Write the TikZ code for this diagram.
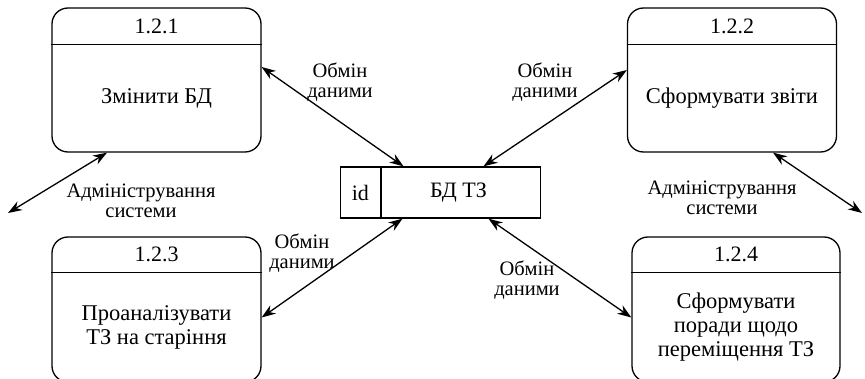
\documentclass[tikz,border=0pt]{standalone}
\usepackage{fontspec}
\setmainfont{Liberation Serif}
\usetikzlibrary{positioning, arrows.meta, calc}
\tikzset{
link/.style={<->}, % data flows go both ways
>={Stealth[length=14pt,width=10pt]}, % big filled heads
proc/.style={draw, rounded corners=16pt, minimum width=209pt, minimum height=144pt, inner sep=0pt}, % a process box
store/.style={draw, minimum width=200pt, minimum height=51pt, inner sep=0pt}, % the data store
num/.style={font=\fontsize{22}{24}\selectfont}, % process number
body/.style={align=center, font=\fontsize{22.5}{24}\selectfont}, % process name
flow/.style={align=center, font=\fontsize{20.5}{20}\selectfont}, % flow label
}

\begin{document}
\begin{tikzpicture}[x=1pt, y=1pt, line width=1.3pt]
        \useasboundingbox (0,0) rectangle (865,378);

        % processes
        \node[proc] (p1) at (156.5,298) {};
        \node[proc] (p2) at (732,298) {};
        \node[proc, minimum height=145pt] (p3) at (156.5,68.5) {};
        \node[proc, minimum width=208pt, minimum height=145pt] (p4) at (736,68.5) {};

        \draw ([yshift=-37pt]p1.north west) -- ([yshift=-37pt]p1.north east);
        \draw ([yshift=-37pt]p2.north west) -- ([yshift=-37pt]p2.north east);
        \draw ([yshift=-36pt]p3.north west) -- ([yshift=-36pt]p3.north east);
        \draw ([yshift=-36pt]p4.north west) -- ([yshift=-36pt]p4.north east);

        \node[num] (n1) at ([yshift=-19pt]p1.north) {1.2.1};
        \node[num] (n2) at ([yshift=-19pt]p2.north) {1.2.2};
        \node[num] (n3) at ([yshift=-18pt]p3.north) {1.2.3};
        \node[num] (n4) at ([yshift=-18pt]p4.north) {1.2.4};

        \node[body] (t1) at ($([yshift=-37pt]p1.north)!0.5!(p1.south)$) {Змінити БД};
        \node[body] (t2) at ($([yshift=-37pt]p2.north)!0.5!(p2.south)$) {Сформувати звіти};
        \node[body] (t3) at ($([yshift=-36pt]p3.north)!0.5!(p3.south)$) {Проаналізувати\\ТЗ на старіння};
        \node[body] (t4) at ($([yshift=-36pt]p4.north)!0.5!(p4.south)$) {Сформувати\\поради щодо\\переміщення ТЗ};

        % data store
        \node[store] (db) at (440.5,185.5) {};
        \draw ([xshift=41pt]db.north west) -- ([xshift=41pt]db.south west);
        \node[num] (dbid) at ([xshift=20.5pt]db.west) {id};
        \node[num] (dbname) at ([xshift=18pt]db.center) {БД ТЗ};

        % outside ends
        \coordinate (admL) at (8,165);
        \coordinate (admR) at (862,165);

        \draw ([yshift=13pt]p1.east) edge[link] ([xshift=-37pt]db.north)
        ([yshift=10pt]p2.west) edge[link] ([xshift=43pt]db.north)
        ([yshift=-8pt]p3.east) edge[link] ([xshift=-38pt]db.south)
        ([yshift=-8pt]p4.west) edge[link] ([xshift=48pt]db.south)
        ([xshift=-49.5pt]p1.south) edge[link] (admL)
        ([xshift=41pt]p2.south) edge[link] (admR);

        % flow labels
        \node[flow] (f1) at (340,296) {Обмін\\даними};
        \node[flow] (f2) at (545,296) {Обмін\\даними};
        \node[flow] (f3) at (302,125) {Обмін\\даними};
        \node[flow] (f4) at (527,98) {Обмін\\даними};
        \node[flow] (f5) at (141,177) {Адміністрування\\системи};
        \node[flow] (f6) at (722,180) {Адміністрування\\системи};
      \end{tikzpicture}
\end{document}
